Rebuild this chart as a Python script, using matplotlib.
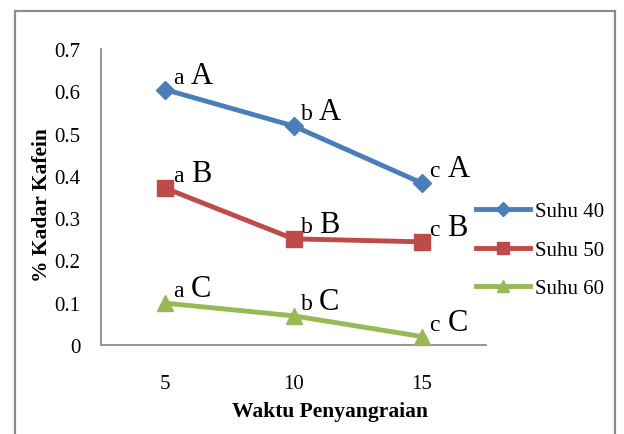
import matplotlib
matplotlib.use("Agg")
import matplotlib.pyplot as plt
from matplotlib.patches import Rectangle

# data
waktu = ["5", "10", "15"]
suhu_40 = [0.604, 0.518, 0.383]
suhu_50 = [0.371, 0.251, 0.244]
suhu_60 = [0.099, 0.069, 0.020]
series_names = ["Suhu 40", "Suhu 50", "Suhu 60"]
lower_labels = ["a", "b", "c"]
upper_labels = ["A", "B", "C"]

colors = ["#4A7EBB", "#BE4B48", "#98B954"]
markers = ["D", "s", "^"]
marker_sizes = [9, 12, 12]

plt.rcParams["font.family"] = ["Liberation Serif", "DejaVu Serif"]

W, H = 624, 435
fig = plt.figure(figsize=(W / 100, H / 100), dpi=100)

# outer chart border (runs past the bottom edge in the reference)
fig.patches.append(Rectangle((15 / W, -0.1), 600 / W, (H - 12) / H + 0.1,
                             transform=fig.transFigure, fill=False,
                             edgecolor="#8c8c8c", linewidth=1.6))

left, right, top, bottom = 101, 486, 50, 346
ax = fig.add_axes([left / W, (H - bottom) / H, (right - left) / W, (bottom - top) / H])

x = [1, 2, 3]
for vals, name, c, m, ms, up in zip([suhu_40, suhu_50, suhu_60], series_names,
                                    colors, markers, marker_sizes, upper_labels):
    ax.plot(x, vals, color=c, marker=m, markersize=ms, linewidth=3.5, label=name,
            clip_on=False, zorder=3)
    for xi, yi, lo in zip(x, vals, lower_labels):
        ax.annotate(lo, (xi, yi), xytext=(5.5, 5), textcoords="offset points",
                    fontsize=17, ha="left", va="baseline")
        ax.annotate(up, (xi, yi), xytext=(18.5, 5), textcoords="offset points",
                    fontsize=22, ha="left", va="baseline")

ax.set_xlim(0.5, 3.5)
ax.set_ylim(0, 0.7)
ax.set_xticks(x)
ax.set_xticklabels(waktu)
ax.set_yticks([0, 0.1, 0.2, 0.3, 0.4, 0.5, 0.6, 0.7])
ax.set_yticklabels(["0", "0.1", "0.2", "0.3", "0.4", "0.5", "0.6", "0.7"])
ax.tick_params(length=0, labelsize=15, colors="black")
ax.tick_params(axis="x", pad=21)
ax.tick_params(axis="y", pad=15)
for s in ["top", "right"]:
    ax.spines[s].set_visible(False)
for s in ["left", "bottom"]:
    ax.spines[s].set_color("#8c8c8c")
    ax.spines[s].set_linewidth(1.3)

fig.text(330 / W, (H - 412) / H, "Waktu Penyangraian", fontsize=15.5,
         fontweight="bold", ha="center", va="center")
fig.text(42 / W, (H - 205) / H, "% Kadar Kafein", fontsize=15.5,
         fontweight="bold", rotation=90, ha="center", va="center")

ax.legend(loc="center left", bbox_to_anchor=(476 / W, (H - 251) / H),
          bbox_transform=fig.transFigure, frameon=False, fontsize=15,
          handlelength=2.6, handletextpad=0.25, labelspacing=0.9,
          borderpad=0, borderaxespad=0, markerscale=0.75)

fig.savefig("out.png", dpi=100)
